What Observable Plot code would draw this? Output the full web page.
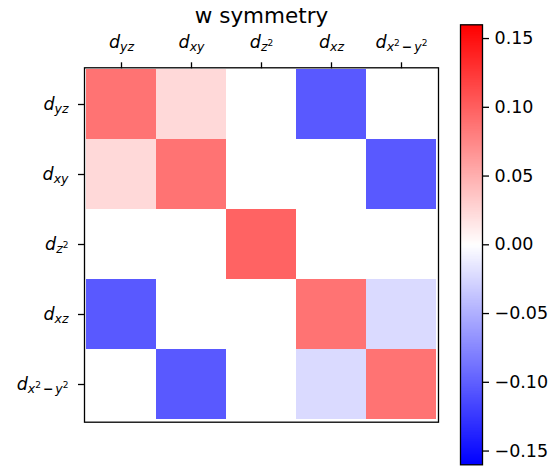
<!DOCTYPE html>
<html>
<head>
<meta charset="utf-8">
<script src="https://cdn.jsdelivr.net/npm/d3@7"></script>
<script src="https://cdn.jsdelivr.net/npm/@observablehq/plot@0.6"></script>
<style>
  html, body { margin: 0; padding: 0; background: white; }
  #chart { position: relative; width: 553px; height: 467px; }
  #chart svg { position: absolute; left: 0; top: 0; }
</style>
</head>
<body>
<div id="chart"></div>
<script>
// ---- data ----
const titleText = "w symmetry";
const orbitals = ["yz", "xy", "z2", "xz", "x2y2"];   // rows (top→bottom) and columns (left→right)
const rowYZ   = [ 0.088,  0.024,  0.000, -0.104,  0.000];
const rowXY   = [ 0.024,  0.088,  0.000,  0.000, -0.104];
const rowZ2   = [ 0.000,  0.000,  0.098,  0.000,  0.000];
const rowXZ   = [-0.104,  0.000,  0.000,  0.088, -0.023];
const rowX2Y2 = [ 0.000, -0.104,  0.000, -0.023,  0.088];
const vmax = 0.16;
const colorbarTicks = [-0.15, -0.10, -0.05, 0.00, 0.05, 0.10, 0.15];

const rows = [rowYZ, rowXY, rowZ2, rowXZ, rowX2Y2];
const cells = [];
rows.forEach((r, i) => r.forEach((v, j) => cells.push({row: orbitals[i], col: orbitals[j], value: v})));

const colorScale = {type: "linear", domain: [-vmax, 0, vmax], range: ["#0000ff", "#ffffff", "#ff0000"], interpolate: "rgb"};

const W = 553, H = 467;
const main = Plot.plot({
  width: W, height: H,
  marginLeft: 84, marginRight: 115, marginTop: 67.3, marginBottom: 45.3,
  style: {fontFamily: "DejaVu Sans", fontSize: "17px", background: "transparent", color: "black"},
  x: {domain: orbitals, padding: 0},
  y: {domain: orbitals, padding: 0},
  color: colorScale,
  marks: [
    Plot.cell(cells, {x: "col", y: "row", fill: "value", inset: 0}),
    Plot.frame({stroke: "black", strokeWidth: 1.3}),
    Plot.axisX({anchor: "top", tickSize: 6, tickPadding: 14, strokeWidth: 1.3, tickFormat: d => d, label: null}),
    Plot.axisY({anchor: "left", tickSize: 6, tickPadding: 10, strokeWidth: 1.3, tickFormat: d => d, label: null}),
    Plot.text([titleText], {frameAnchor: "top", dy: -45.3, lineAnchor: "bottom", fontSize: 21.5})
  ]
});

// render orbital names as math-style labels d_{...}
const NS = "http://www.w3.org/2000/svg";
function mathLabel(el, key) {
  while (el.firstChild) el.removeChild(el.firstChild);
  const add = (s, attrs) => {
    const t = document.createElementNS(NS, "tspan");
    t.textContent = s;
    for (const k in attrs) t.setAttribute(k, attrs[k]);
    el.appendChild(t);
  };
  add("d", {"font-style": "italic", "font-size": 17.5});
  const sub = {"font-size": 12.5, "font-style": "italic"};
  if (key === "x2y2") {
    add("x", {...sub, dy: 3});
    add("2", {"font-size": 9, dy: -5});
    add("\u2212", {"font-size": 12.5, dy: 5, dx: 2, "font-weight": "bold"});
    add("y", {...sub, dx: 2});
    add("2", {"font-size": 9, dy: -5});
  } else if (key === "z2") {
    add("z", {...sub, dy: 3});
    add("2", {"font-size": 9, dy: -5});
  } else {
    add(key, {...sub, dy: 3});
  }
}
main.querySelectorAll('g[aria-label="x-axis tick label"] text, g[aria-label="y-axis tick label"] text')
  .forEach(el => mathLabel(el, el.textContent));

const cbar = Plot.plot({
  width: W, height: H,
  marginLeft: 460, marginRight: 71, marginTop: 24.3, marginBottom: 2.7,
  style: {fontFamily: "DejaVu Sans", fontSize: "17.5px", background: "transparent", color: "black"},
  x: {domain: [0, 1], axis: null},
  y: {domain: [-vmax, vmax]},
  color: colorScale,
  marks: [
    Plot.raster({x1: 0, x2: 1, y1: -vmax, y2: vmax, width: 1, height: 320, fill: (x, y) => y, imageRendering: "auto"}),
    Plot.frame({stroke: "black", strokeWidth: 1.3}),
    Plot.axisY({anchor: "right", ticks: colorbarTicks, tickFormat: d3.format(".2f"), tickSize: 6, tickPadding: 6, strokeWidth: 1.3, label: null})
  ]
});

const chart = document.getElementById("chart");
chart.appendChild(main);
chart.appendChild(cbar);
</script>
</body>
</html>
